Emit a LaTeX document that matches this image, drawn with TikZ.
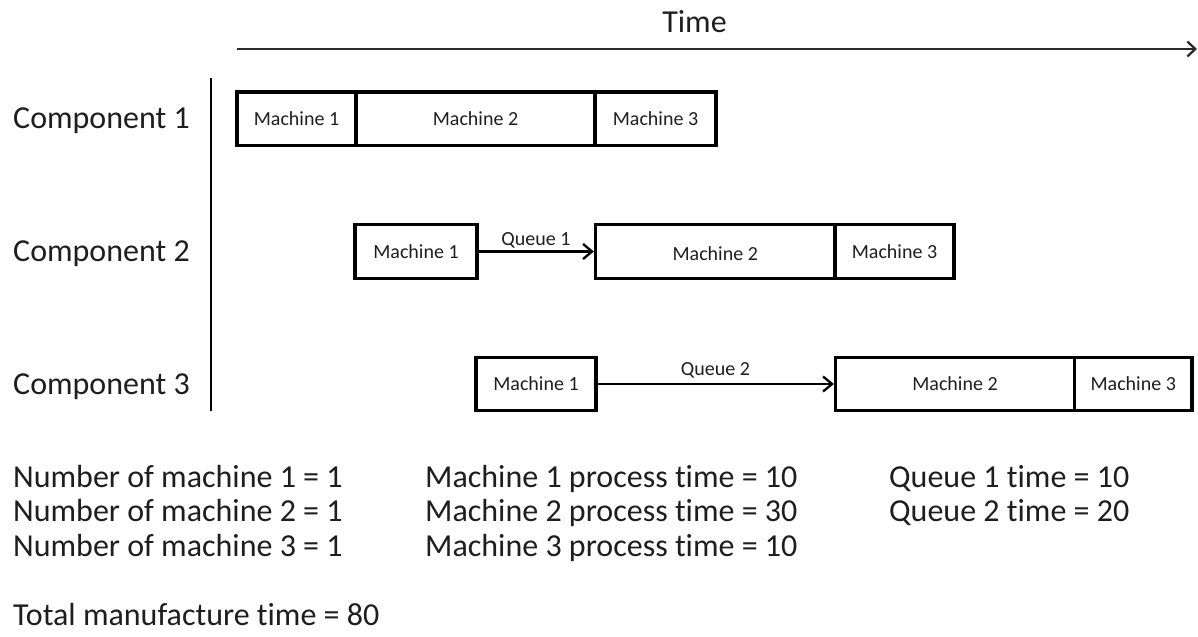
\documentclass[tikz,border=0pt]{standalone}
\usepackage{fontspec}
\setmainfont{Carlito}[Ligatures=NoCommon]
\usetikzlibrary{arrows.meta}
\definecolor{ink}{HTML}{1E1E1E}
\definecolor{axis}{HTML}{2A2A2A}
\newcommand{\bigtxt}{\fontsize{32bp}{36bp}\selectfont}
\newcommand{\smalltxt}{\fontsize{20bp}{24bp}\selectfont}
\tikzset{
  mbox/.style={draw=black, line width=3.3bp, rectangle, inner sep=0pt,
    minimum height=53.5bp, font=\smalltxt, text=ink},
  flow/.style={line width=2.3bp, -{Straight Barb[length=9bp, width=15bp, line width=2.3bp]}},
  qlabel/.style={anchor=base, inner sep=0pt, font=\smalltxt, text=ink},
  biglabel/.style={anchor=base west, inner sep=0pt, font=\bigtxt, text=ink},
  timeline/.style={draw=axis, line width=2.6bp, -{Straight Barb[length=8bp, width=15bp, line width=2.3bp]}},
  axisline/.style={draw=black, line width=2.2bp}
}
\begin{document}
\begin{tikzpicture}[x=1bp, y=-1bp]
\useasboundingbox (0,0) rectangle (1198,637);

% time axis
\node[anchor=base, inner sep=0pt, font=\bigtxt, text=ink] (time) at (694.5,33) {Time};
\coordinate (t0) at (237,49);
\coordinate (t1) at (1197,49);
\draw[timeline] (t0) -- (t1);

% component axis
\coordinate (a0) at (211,78);
\coordinate (a1) at (211,411);
\draw[axisline] (a0) -- (a1);

% row labels
\node[biglabel] (comp1) at (13,128.5) {Component 1};
\node[biglabel] (comp2) at (13,261.5) {Component 2};
\node[biglabel] (comp3) at (13,394) {Component 3};

% component 1
\node[mbox, minimum width=119bp] (c1m1) at (296.5,118.75) {Machine 1};
\node[mbox, minimum width=239bp] (c1m2) at (475.5,118.75) {Machine 2};
\node[mbox, minimum width=121bp] (c1m3) at (655.5,118.75) {Machine 3};

% component 2
\node[mbox, minimum width=122bp] (c2m1) at (416,251.5) {Machine 1};
\node[mbox, minimum width=239.5bp] (c2m2) at (715.25,251.5) {};
\node[inner sep=0pt, font=\smalltxt, text=ink] (c2m2t) at (715.25,253.5) {Machine 2};
\node[mbox, minimum width=119bp] (c2m3) at (894.5,251.5) {Machine 3};
\draw[flow] (c2m1.east) -- (c2m2.west);
\node[qlabel] (q1) at (536,245.5) {Queue 1};

% component 3
\node[mbox, minimum width=120bp] (c3m1) at (536,384) {Machine 1};
\node[mbox, minimum width=239bp] (c3m2) at (955,384) {Machine 2};
\node[mbox, minimum width=117.5bp] (c3m3) at (1133.25,384) {Machine 3};
\draw[flow] (c3m1.east) -- (c3m2.west);
\node[qlabel] (q2) at (715.5,375) {Queue 2};

% parameters
\node[biglabel] (n1) at (13,487) {Number of machine 1 = 1};
\node[biglabel] (n2) at (13,521.5) {Number of machine 2 = 1};
\node[biglabel] (n3) at (13,556.5) {Number of machine 3 = 1};
\node[biglabel] (p1) at (425,487) {Machine 1 process time = 10};
\node[biglabel] (p2) at (425,521.5) {Machine 2 process time = 30};
\node[biglabel] (p3) at (425,556.5) {Machine 3 process time = 10};
\node[biglabel] (w1) at (889,487) {Queue 1 time = 10};
\node[biglabel] (w2) at (889,521.5) {Queue 2 time = 20};
\node[biglabel] (tot) at (13,625) {Total manufacture time = 80};
\end{tikzpicture}
\end{document}
